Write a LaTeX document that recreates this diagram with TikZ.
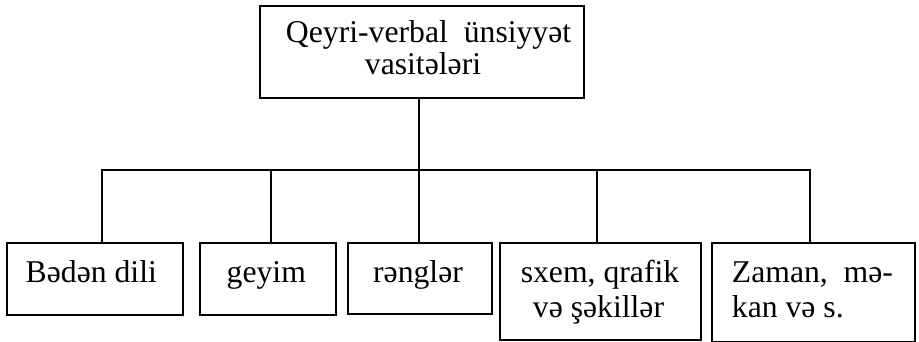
\documentclass[tikz,border=0pt]{standalone}
\usepackage{fontspec}
\setmainfont{Liberation Serif}
\begin{document}
\begin{tikzpicture}[x=1pt,y=-1pt,
  frame/.style={draw=black,line width=1.6pt,inner sep=0pt,anchor=north west},
  txt/.style={inner sep=0pt,anchor=base,font=\fontsize{31.7}{32}\selectfont},
  txtl/.style={txt,anchor=base west},
  wire/.style={line width=1.6pt,line join=miter}]
\useasboundingbox (0,0) rectangle (919,342);

% boxes
\node[frame,minimum width=324pt,minimum height=92pt] (top) at (259,5) {};
\node[frame,minimum width=176pt,minimum height=72pt] (b1) at (6,242) {};
\node[frame,minimum width=136pt,minimum height=72pt] (b2) at (199,242) {};
\node[frame,minimum width=144pt,minimum height=71pt] (b3) at (347,242) {};
\node[frame,minimum width=201pt,minimum height=97pt] (b4) at (499,242) {};
\node[frame,minimum width=203pt,minimum height=99pt] (b5) at (711,242) {};

% labels
\node[txt] (ttop1) at (428.6,42.7) {Qeyri-verbal\ \ ünsiyyət};
\node[txt] (ttop2) at (423,75) {vasitələri};
\node[txt] (t1) at (91.3,282.3) {Bədən dili};
\node[txt] (t2) at (266.3,282.3) {geyim};
\node[txt] (t3) at (418,282.3) {rənglər};
\node[txt] (t4a) at (600,282.7) {sxem, qrafik};
\node[txt] (t4b) at (598.5,317.7) {və şəkillər};
\node[txtl] (t5a) at (731.7,282.7) {Zaman,\ \ mə-};
\node[txtl] (t5b) at (731.7,317.7) {kan və s.};

% tree connectors
\coordinate (bus) at (418,170);
\draw[wire] ([xshift=-3pt]top.south) -- ([xshift=-3pt]top.south |- bus);
\draw[wire] ([xshift=7pt]b1.north) |- ([xshift=-3.5pt]b5.north |- bus)
            -- ([xshift=-3.5pt]b5.north);
\draw[wire] ([xshift=3pt]b2.north) -- ([xshift=3pt]b2.north |- bus);
\draw[wire] ([xshift=-1pt]b3.north) -- ([xshift=-1pt]b3.north |- bus);
\draw[wire] ([xshift=-3.5pt]b4.north) -- ([xshift=-3.5pt]b4.north |- bus);
\end{tikzpicture}
\end{document}
